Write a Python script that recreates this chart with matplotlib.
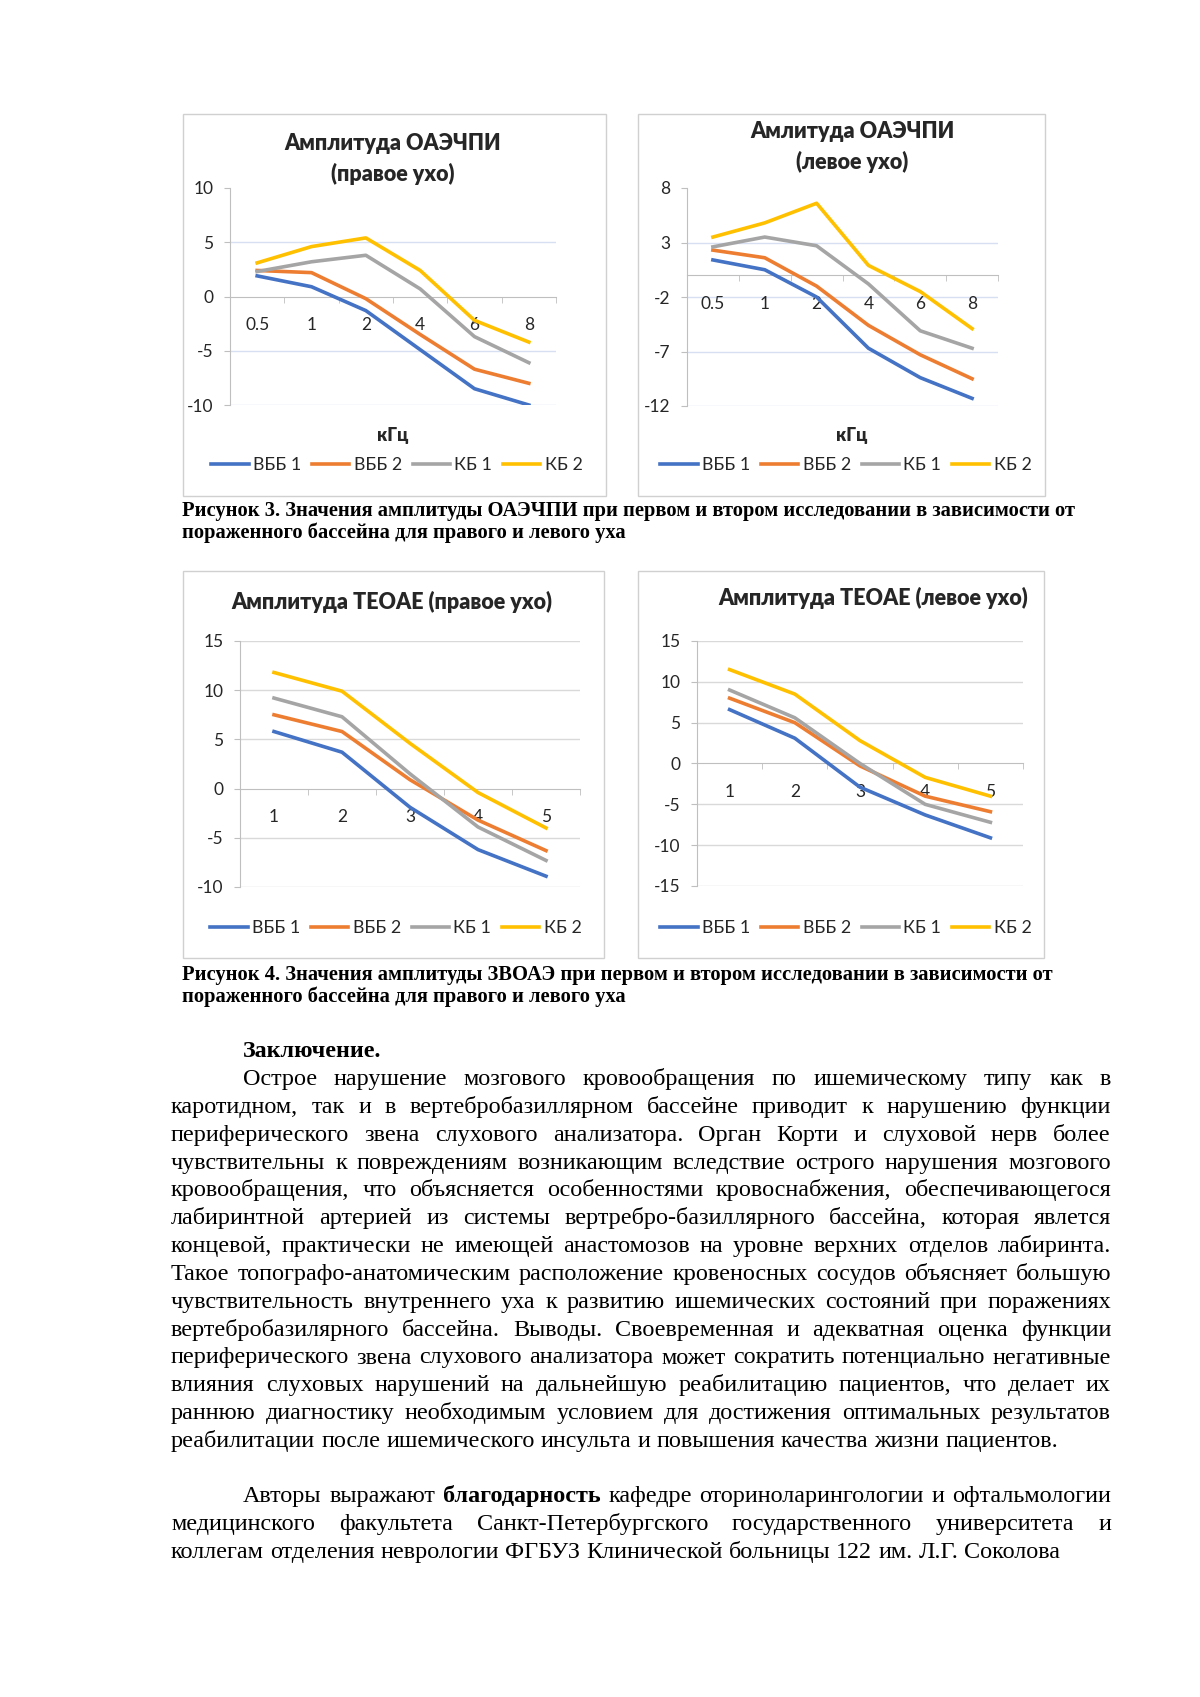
import matplotlib
matplotlib.use("Agg")
import numpy as np
import matplotlib.pyplot as plt
from matplotlib.patches import Rectangle
from matplotlib.lines import Line2D

W, H = 1200, 1697

# ---- data ----
series_names = ["ВББ 1", "ВББ 2", "КБ 1", "КБ 2"]
series_colors = ["#4472C4", "#ED7D31", "#A5A5A5", "#FFC000"]

freq_labels = ["0.5", "1", "2", "4", "6", "8"]
teoae_labels = ["1", "2", "3", "4", "5"]

dp_right_vbb1 = [1.9, 0.9, -1.3, -4.9, -8.5, -10.0]
dp_right_vbb2 = [2.4, 2.2, -0.2, -3.5, -6.7, -8.0]
dp_right_kb1 = [2.3, 3.2, 3.8, 0.7, -3.7, -6.1]
dp_right_kb2 = [3.1, 4.6, 5.4, 2.4, -2.2, -4.2]

dp_left_vbb1 = [1.4, 0.5, -2.0, -6.7, -9.4, -11.3]
dp_left_vbb2 = [2.3, 1.6, -1.0, -4.6, -7.3, -9.5]
dp_left_kb1 = [2.6, 3.5, 2.7, -0.8, -5.1, -6.7]
dp_left_kb2 = [3.5, 4.8, 6.6, 0.9, -1.5, -4.9]

te_right_vbb1 = [5.8, 3.7, -1.9, -6.2, -8.9]
te_right_vbb2 = [7.5, 5.8, 0.9, -3.2, -6.3]
te_right_kb1 = [9.2, 7.3, 1.5, -3.9, -7.3]
te_right_kb2 = [11.8, 9.9, 4.6, -0.4, -4.0]

te_left_vbb1 = [6.6, 3.1, -2.9, -6.3, -9.1]
te_left_vbb2 = [8.0, 5.0, -0.3, -4.0, -5.9]
te_left_kb1 = [9.0, 5.6, 0.0, -5.0, -7.2]
te_left_kb2 = [11.5, 8.5, 2.8, -1.7, -4.0]

caption3 = ["Рисунок 3. Значения амплитуды ОАЭЧПИ при первом и втором исследовании в зависимости от",
            "пораженного бассейна для правого и левого уха"]
caption4 = ["Рисунок 4. Значения амплитуды ЗВОАЭ при первом и втором исследовании в зависимости от",
            "пораженного бассейна для правого и левого уха"]

para1 = [
    "Острое нарушение мозгового кровообращения по ишемическому типу как в",
    "каротидном, так и в вертебробазиллярном бассейне приводит к нарушению функции",
    "периферического звена слухового анализатора. Орган Корти и слуховой нерв более",
    "чувствительны к повреждениям возникающим вследствие острого нарушения мозгового",
    "кровообращения, что объясняется особенностями кровоснабжения, обеспечивающегося",
    "лабиринтной артерией из системы вертребро-базиллярного бассейна, которая явлется",
    "концевой, практически не имеющей анастомозов на уровне верхних отделов лабиринта.",
    "Такое топографо-анатомическим расположение кровеносных сосудов объясняет большую",
    "чувствительность внутреннего уха к развитию ишемических состояний при поражениях",
    "вертебробазилярного бассейна. Выводы. Своевременная и адекватная оценка функции",
    "периферического звена слухового анализатора может сократить потенциально негативные",
    "влияния слуховых нарушений на дальнейшую реабилитацию пациентов, что делает их",
    "раннюю диагностику необходимым условием для достижения оптимальных результатов",
    "реабилитации после ишемического инсульта и повышения качества жизни пациентов.",
]
para2 = [
    "Авторы выражают *благодарность* кафедре оториноларингологии и офтальмологии",
    "медицинского факультета Санкт-Петербургского государственного университета и",
    "коллегам отделения неврологии ФГБУЗ Клинической больницы 122 им. Л.Г. Соколова",
]

SANS = ["Lato", "DejaVu Sans"]
SERIF = ["Liberation Serif", "DejaVu Serif"]
INK = "#262626"

fig = plt.figure(figsize=(W / 100, H / 100), dpi=100)
renderer = fig.canvas.get_renderer()


def fx(x):
    return x / W


def fy(y):
    return 1 - y / H


def chart(box, area, labels, series, ylim, grid_color, skip_top_grid,
          title_lines, title_x, title_y, legend_xy, xlabel_y=None):
    # outer frame of the Excel chart
    fig.add_artist(Rectangle((fx(box[0]), fy(box[3])), (box[2] - box[0]) / W,
                             (box[3] - box[1]) / H, transform=fig.transFigure,
                             fill=False, edgecolor="#d0d0d0", lw=1))
    x0, y0, x1, y1 = area
    ax = fig.add_axes([fx(x0), fy(y1), (x1 - x0) / W, (y1 - y0) / H])
    ax.patch.set_alpha(0)
    n = len(labels)
    yticks = np.arange(ylim[0], ylim[1] + 1, 5)
    ax.set_xlim(-0.5, n - 0.5)
    ax.set_ylim(ylim)

    grid_vals = [v for v in yticks if v != 0]
    if skip_top_grid:
        grid_vals = [v for v in grid_vals if v != ylim[1]]
    for v in grid_vals:
        ax.axhline(v, color=grid_color, lw=1, zorder=0)

    for vals, c, name in zip(series, series_colors, series_names):
        ax.plot(range(n), vals, color=c, lw=2.6, label=name, zorder=3)

    for s in ["top", "right"]:
        ax.spines[s].set_visible(False)
    ax.spines["bottom"].set_position(("data", 0))
    ax.spines["bottom"].set_color("#bfbfbf")
    ax.spines["left"].set_color("#bfbfbf")
    ax.spines["bottom"].set_zorder(1)

    ax.set_yticks(yticks)
    ax.set_yticklabels([str(int(v)) for v in yticks], family=SANS)
    ax.tick_params(axis="y", length=4, color="#bfbfbf", labelsize=12.5, pad=8,
                   labelcolor=INK)
    ax.set_xticks(range(n))
    ax.set_xticklabels(labels, family=SANS)
    ax.tick_params(axis="x", which="major", length=0, labelsize=12.5, pad=15,
                   labelcolor=INK)
    ax.set_xticks(np.arange(-0.5, n, 1), minor=True)
    ax.tick_params(axis="x", which="minor", length=4, color="#bfbfbf")

    for i, line in enumerate(title_lines):
        fig.text(fx(title_x), fy(title_y + i * 30), line, ha="center", va="center",
                 fontsize=15.5, fontweight="heavy", family=SANS, color=INK)
    if xlabel_y is not None:
        fig.text(fx(title_x), fy(xlabel_y), "кГц", ha="center", va="center",
                 fontsize=13, fontweight="heavy", family=SANS, color=INK)

    handles = [Line2D([], [], color=c, lw=2.6) for c in series_colors]
    fig.legend(handles, series_names, loc="center",
               bbox_to_anchor=(fx(legend_xy[0]), fy(legend_xy[1])),
               ncol=4, frameon=False, prop={"family": SANS, "size": 12.8},
               handlelength=2.1, handletextpad=0.25, columnspacing=0.6,
               labelcolor=INK)
    return ax


chart((183, 114, 606, 496), (230, 188, 556, 405), freq_labels,
      [dp_right_vbb1, dp_right_vbb2, dp_right_kb1, dp_right_kb2], (-10, 10),
      "#d6e0f2", True, ["Амплитуда ОАЭЧПИ", "(правое ухо)"], 393, 144,
      (397, 465), xlabel_y=435)
chart((638, 114, 1045, 496), (687, 188, 998, 406), freq_labels,
      [dp_left_vbb1, dp_left_vbb2, dp_left_kb1, dp_left_kb2], (-12, 8),
      "#d6e0f2", True, ["Амлитуда ОАЭЧПИ", "(левое ухо)"], 852, 132,
      (846, 465), xlabel_y=435)
chart((183, 571, 604, 958), (240, 641, 580, 887), teoae_labels,
      [te_right_vbb1, te_right_vbb2, te_right_kb1, te_right_kb2], (-10, 15),
      "#d9d9d9", False, ["Амплитуда TEOAE (правое ухо)"], 392, 602,
      (396, 928))
chart((638, 571, 1044, 958), (697, 641, 1023, 886), teoae_labels,
      [te_left_vbb1, te_left_vbb2, te_left_kb1, te_left_kb2], (-15, 15),
      "#d9d9d9", False, ["Амплитуда TEOAE (левое ухо)"], 873, 598,
      (846, 928))


# ---- captions: bold serif, sized so the first line spans the same width ----
probe = fig.text(0, 0, caption3[0], fontsize=12, fontweight="bold", family=SERIF)
cap_size = 12 * 888 / probe.get_window_extent(renderer).width
probe.remove()
for cap, ys in [(caption3, (516, 538)), (caption4, (980, 1002))]:
    for line, y in zip(cap, ys):
        fig.text(fx(182), fy(y), line, fontsize=cap_size, fontweight="bold",
                 family=SERIF, va="baseline", color="black")


# ---- body text, justified word by word ----
BODY = 17.4


def put_line(line, xl, xr, y, justify):
    arts = []
    for w in line.split():
        bold = w.startswith("*") and w.endswith("*")
        arts.append(fig.text(0, fy(y), w.strip("*"), fontsize=BODY,
                             fontweight="bold" if bold else "normal",
                             family=SERIF, va="baseline", color="black"))
    widths = [a.get_window_extent(renderer).width for a in arts]
    if justify and len(arts) > 1:
        gap = (xr - xl - sum(widths)) / (len(arts) - 1)
    else:
        gap = BODY * 100 / 72 * 0.25
    x = xl
    for a, w in zip(arts, widths):
        a.set_x(fx(x))
        x += w + gap


LEFT, RIGHT, INDENT = 171, 1111, 243
fig.text(fx(INDENT), fy(1057), "Заключение.", fontsize=BODY, fontweight="bold",
         family=SERIF, va="baseline")
for i, line in enumerate(para1):
    put_line(line, INDENT if i == 0 else LEFT, RIGHT, 1085 + i * 27.85,
             i < len(para1) - 1)
for i, line in enumerate(para2):
    put_line(line, INDENT if i == 0 else LEFT, RIGHT, 1502 + i * 27.85,
             i < len(para2) - 1)

fig.savefig("out.png", dpi=100, facecolor="white")
